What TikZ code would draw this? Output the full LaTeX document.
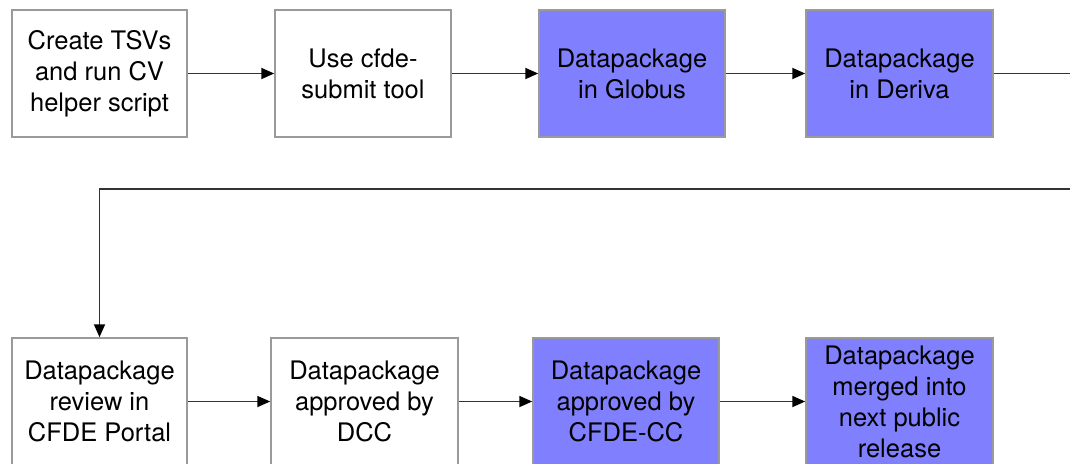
\documentclass[tikz,border=0pt]{standalone}
\usepackage{fontspec}
\setmainfont{TeX Gyre Heros}
\usetikzlibrary{arrows.meta}
\definecolor{boxblue}{HTML}{8080FF}
\definecolor{boxedge}{HTML}{9A9A9A}
\definecolor{linegray}{HTML}{333333}
\tikzset{
  stepbox/.style={draw=boxedge, line width=1.5pt, rectangle, minimum height=127pt, inner sep=2pt, align=center, font=\fontsize{25.5}{31}\selectfont},
  bluebox/.style={stepbox, fill=boxblue},
  flow/.style={draw=linegray, line width=1.8pt, -{Triangle[length=13pt,width=11pt,color=black]}},
  plain/.style={draw=linegray, line width=1.8pt}
}
\begin{document}
\begin{tikzpicture}[x=1pt,y=-1pt]
\useasboundingbox (0,0) rectangle (1070,463);
\clip (0,0) rectangle (1070,463);
\node[stepbox, minimum width=175pt] (b1) at (99.5,73.5) {Create TSVs\\and run CV\\helper script};
\node[stepbox, minimum width=176pt] (b2) at (363,73.5) {Use cfde-\\submit tool};
\node[bluebox, minimum width=186pt] (b3) at (632,73.5) {Datapackage\\in Globus};
\node[bluebox, minimum width=187pt] (b4) at (899.5,73.5) {Datapackage\\in Deriva};
\node[stepbox, minimum width=175pt] (b5) at (99.5,401.5) {Datapackage\\review in\\CFDE Portal};
\node[stepbox, minimum width=187pt] (b6) at (364.5,401.5) {Datapackage\\approved by\\DCC};
\node[bluebox, minimum width=186pt] (b7) at (626,401.5) {Datapackage\\approved by\\CFDE-CC};
\node[bluebox, minimum width=187pt] (b8) at (899.5,401.5) {Datapackage\\merged into\\next public\\release};
\coordinate (r1) at (1085,73.5);
\coordinate (r2) at (1085,189);
\coordinate (l2) at (99.5,189);
\draw[flow] (b1) -- (b2);
\draw[flow] (b2) -- (b3);
\draw[flow] (b3) -- (b4);
\draw[flow] (b4.east) -- (r1) -- (r2) -- (l2) -- (b5.north);
\draw[flow] (b5) -- (b6);
\draw[flow] (b6) -- (b7);
\draw[flow] (b7) -- (b8);
\end{tikzpicture}
\end{document}
